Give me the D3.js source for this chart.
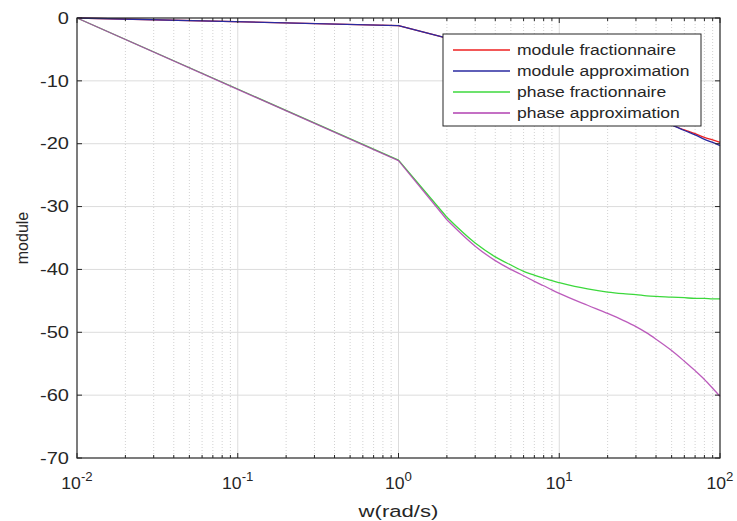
<!DOCTYPE html>
<html>
<head>
<meta charset="utf-8">
<script src="https://cdn.jsdelivr.net/npm/d3@7"></script>
<style>
  html, body { margin: 0; padding: 0; background: #fff; }
  svg { display: block; font-family: "Liberation Sans", Arial, sans-serif; }
</style>
</head>
<body>
<svg id="chart" width="737" height="521"></svg>
<script>
// Frequency points (rad/s)
const freq = [0.01, 1, 2, 3, 4, 5, 6, 7, 8, 9, 10, 15, 20, 25, 30, 35, 40, 50, 60, 70, 80, 90, 100];

// Magnitude curves (dB)
const moduleFrac   = [0, -1.2, -3.2, -5.0, -6.1, -7.0, -7.8, -8.5, -9.0, -9.6, -10.0, -11.8, -13.0, -14.0, -14.8, -15.45, -16.0, -17.0, -17.8, -18.4, -19.0, -19.4, -19.8];
const moduleApprox = [0, -1.2, -3.2, -5.0, -6.1, -7.0, -7.8, -8.5, -9.0, -9.6, -10.0, -11.8, -13.0, -14.0, -14.8, -15.45, -16.0, -17.0, -17.9, -18.6, -19.3, -19.8, -20.3];

// Phase curves (deg)
const phaseFrac   = [0, -22.6, -31.7, -35.8, -38.0, -39.3, -40.3, -40.9, -41.4, -41.8, -42.1, -43.1, -43.6, -43.85, -44.0, -44.2, -44.3, -44.4, -44.5, -44.6, -44.6, -44.7, -44.7];
const phaseApprox = [0, -22.7, -32.1, -36.3, -38.6, -40.0, -41.0, -41.9, -42.6, -43.25, -43.8, -45.7, -47.0, -48.1, -49.1, -50.1, -51.1, -52.9, -54.6, -56.1, -57.5, -58.9, -60.2];

const seriesNames = ["module fractionnaire", "module approximation", "phase fractionnaire", "phase approximation"];
const seriesColors = ["#ee2020", "#2a2aa0", "#3cd83c", "#b040b0"];

const yTicks = [0, -10, -20, -30, -40, -50, -60, -70];
const xDecades = [-2, -1, 0, 1, 2];
const xLabel = "w(rad/s)";
const yLabel = "module";

const svg = d3.select("#chart");
const plotL = 77, plotR = 720, plotT = 18, plotB = 458;
const axisColor = "#262626";

const x = d3.scaleLog().domain([0.01, 100]).range([plotL, plotR]);
const y = d3.scaleLinear().domain([-70, 0]).range([plotB, plotT]);

// horizontally widen a text element about its own x anchor
function widen(sel, k) {
  sel.each(function () {
    const t = d3.select(this);
    const tx = +t.attr("x") || 0;
    t.attr("transform", `matrix(${k},0,0,1,${tx * (1 - k)},0)`);
  });
}

// minor grid (x)
const minorVals = [];
for (let d = -2; d < 2; d++) for (let k = 2; k <= 9; k++) minorVals.push(k * Math.pow(10, d));
const grid = svg.append("g");
grid.selectAll("line.minor").data(minorVals).join("line")
  .attr("x1", d => x(d)).attr("x2", d => x(d))
  .attr("y1", plotT).attr("y2", plotB)
  .attr("stroke", "#d2d2d2").attr("stroke-width", 1)
  .attr("stroke-dasharray", "1,2");

// major grid
const majorVals = xDecades.map(d => Math.pow(10, d)).slice(1, -1);
grid.selectAll("line.major").data(majorVals).join("line")
  .attr("x1", d => x(d)).attr("x2", d => x(d))
  .attr("y1", plotT).attr("y2", plotB)
  .attr("stroke", "#dcdcdc").attr("stroke-width", 1);
grid.selectAll("line.hy").data(yTicks.slice(1, -1)).join("line")
  .attr("x1", plotL).attr("x2", plotR)
  .attr("y1", d => y(d)).attr("y2", d => y(d))
  .attr("stroke", "#dcdcdc").attr("stroke-width", 1);

// curves: straight up to w = 2, smooth afterwards
const lineStraight = d3.line().x(d => x(d[0])).y(d => y(d[1]));
const lineSmooth = d3.line().x(d => x(d[0])).y(d => y(d[1])).curve(d3.curveMonotoneX);
const allSeries = [moduleFrac, moduleApprox, phaseFrac, phaseApprox];
allSeries.forEach((vals, i) => {
  const pts = freq.map((f, j) => [f, vals[j]]);
  const g = svg.append("g")
    .attr("fill", "none")
    .attr("stroke", seriesColors[i])
    .attr("stroke-width", 1.3)
    .attr("stroke-opacity", i === 3 ? 0.85 : 1)
    .attr("stroke-linejoin", "round");
  g.append("path").attr("d", lineStraight(pts.slice(0, 3)));
  g.append("path").attr("d", lineSmooth(pts.slice(2)));
});

// axes (ticks inside the box)
const ax = svg.append("g");
const xMajor = xDecades.map(d => Math.pow(10, d));
function xTickMarks(y0, dir) {
  ax.append("g").selectAll("line").data(xMajor).join("line")
    .attr("x1", d => x(d)).attr("x2", d => x(d))
    .attr("y1", y0).attr("y2", y0 + dir * 5)
    .attr("stroke", axisColor);
  ax.append("g").selectAll("line").data(minorVals).join("line")
    .attr("x1", d => x(d)).attr("x2", d => x(d))
    .attr("y1", y0).attr("y2", y0 + dir * 3)
    .attr("stroke", axisColor);
}
xTickMarks(plotB, -1);
xTickMarks(plotT, 1);
function yTickMarks(x0, dir) {
  ax.append("g").selectAll("line").data(yTicks).join("line")
    .attr("x1", x0).attr("x2", x0 + dir * 5)
    .attr("y1", d => y(d)).attr("y2", d => y(d))
    .attr("stroke", axisColor);
}
yTickMarks(plotL, 1);
yTickMarks(plotR, -1);
ax.append("rect")
  .attr("x", plotL).attr("y", plotT)
  .attr("width", plotR - plotL).attr("height", plotB - plotT)
  .attr("fill", "none").attr("stroke", axisColor).attr("stroke-width", 1.2);

// y tick labels
svg.append("g").selectAll("text").data(yTicks).join("text")
  .attr("x", plotL - 8).attr("y", d => y(d))
  .attr("dy", "0.36em")
  .attr("text-anchor", "end")
  .attr("font-size", 16)
  .attr("fill", axisColor)
  .text(d => d)
  .call(widen, 1.25);

// x tick labels: 10 with superscript exponent
const xl = svg.append("g").selectAll("text").data(xDecades).join("text")
  .attr("x", d => x(Math.pow(10, d)))
  .attr("y", 489)
  .attr("text-anchor", "middle")
  .attr("font-size", 16)
  .attr("fill", axisColor);
xl.append("tspan").text("10");
xl.append("tspan").attr("dy", -8).attr("font-size", 12).text(d => d);
xl.call(widen, 1.1);

// axis titles
svg.append("text")
  .attr("x", (plotL + plotR) / 2).attr("y", 517)
  .attr("text-anchor", "middle")
  .attr("font-size", 17)
  .attr("fill", axisColor)
  .text(xLabel)
  .call(widen, 1.3);
svg.append("text")
  .attr("transform", `translate(28,${(plotT + plotB) / 2}) rotate(-90)`)
  .attr("text-anchor", "middle")
  .attr("font-size", 16)
  .attr("fill", axisColor)
  .text(yLabel);

// legend
const lg = svg.append("g");
lg.append("rect")
  .attr("x", 443).attr("y", 34).attr("width", 258).attr("height", 92)
  .attr("fill", "#fff").attr("stroke", axisColor).attr("stroke-width", 1);
seriesNames.forEach((name, i) => {
  const cy = 50 + i * 21;
  lg.append("line")
    .attr("x1", 453).attr("x2", 510).attr("y1", cy).attr("y2", cy)
    .attr("stroke", seriesColors[i]).attr("stroke-width", 1.3);
  lg.append("text")
    .attr("x", 517).attr("y", cy).attr("dy", "0.36em")
    .attr("font-size", 15)
    .attr("fill", axisColor)
    .text(name)
    .call(widen, 1.17);
});
</script>
</body>
</html>
